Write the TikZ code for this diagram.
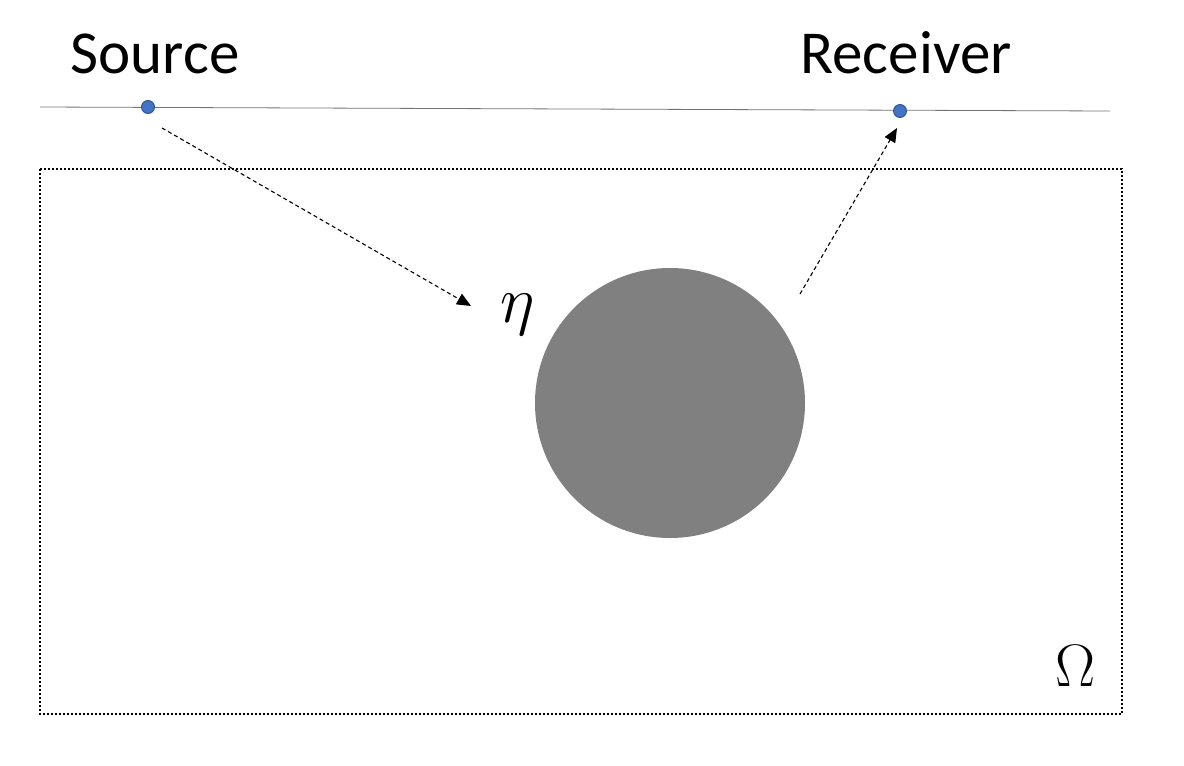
\RequirePackage{fix-cm}
\documentclass[tikz,border=0pt]{standalone}
\usepackage{fontspec}
\setmainfont{Carlito}
\usetikzlibrary{arrows.meta}
\definecolor{dotblue}{RGB}{68,114,196}
\definecolor{dotedge}{RGB}{47,82,143}
\tikzset{
	station/.style={circle, fill=dotblue, draw=dotedge, line width=0.9pt, inner sep=0pt, minimum size=13pt},
	ray/.style={dash pattern=on 4pt off 3pt, line width=1.1pt, -{Triangle[length=14pt, width=12pt]}},
	lbl/.style={inner sep=0pt, anchor=base, font=\fontsize{61}{70}\selectfont}
}
\begin{document}
\begin{tikzpicture}[x=1pt, y=-1pt]
			%%%%% START %%%%%
			\useasboundingbox (0, 0) rectangle (1184, 766);
			
			% surface
			\draw[line width=0.8pt, color=black!55] (40, 107) -- (1110, 111);
			
			% domain
			\draw[dash pattern=on 2pt off 2pt, line width=1.8pt] (40, 169) rectangle (1122, 714);
			\node[inner sep=0pt, font=\fontsize{60}{70}\selectfont] (omega) at (1076, 666) {$\Omega$};
			
			% scatterer
			\draw[fill=black!50, draw=none] (670, 403) circle (135);
			\node[inner sep=0pt, font=\fontsize{66}{76}\selectfont] (eta) at (518, 315) {$\eta$};
			
			% source and receiver
			\node[station] (src) at (148, 107) {};
			\node[station] (rcv) at (900, 111) {};
			\node[lbl] (srclbl) at (155, 73) {Source};
			\node[lbl] (rcvlbl) at (906, 73) {Receiver};
			
			% rays
			\coordinate (hitin) at (471, 306);
			\coordinate (hitout) at (800, 294);
			\draw[ray] ([shift={(14, 21)}]src.center) -- (hitin);
			\draw[ray] (hitout) -- ([shift={(-3, 17)}]rcv.center);
			%%%%% END %%%%%
\end{tikzpicture}
\end{document}
